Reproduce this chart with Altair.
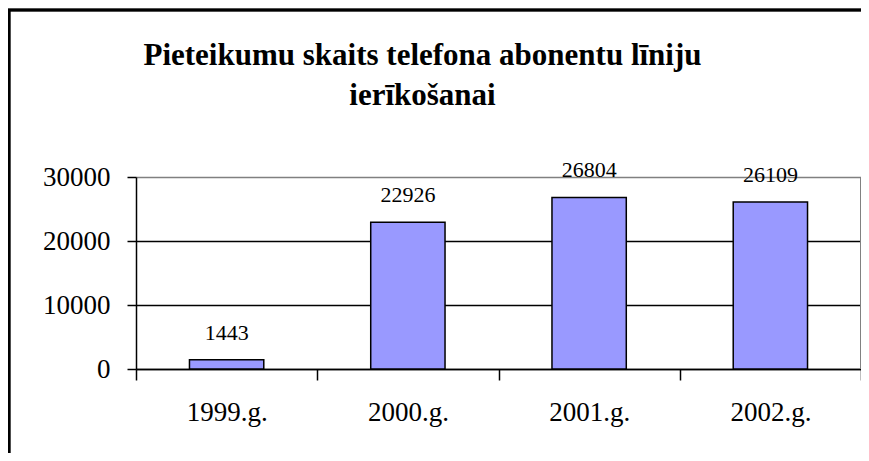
import altair as alt
import pandas as pd

years = ["1999.g.", "2000.g.", "2001.g.", "2002.g."]
counts = [1443, 22926, 26804, 26109]
y_ticks = [0, 10000, 20000, 30000]
title_lines = ["Pieteikumu skaits telefona abonentu līniju", "ierīkošanai"]

df = pd.DataFrame({"year": years, "count": counts})

W, H = 725, 192
SERIF = "'Liberation Serif', 'Times New Roman', serif"

x = alt.X(
    "year:N", sort=years, title=None,
    scale=alt.Scale(paddingInner=0, paddingOuter=0),
    axis=alt.Axis(
        labelAngle=0, labelFont=SERIF, labelFontSize=27, labelColor="black",
        tickBand="extent", tickSize=11, tickColor="black", tickWidth=1.5,
        domainColor="black", domainWidth=1.5, labelPadding=19, grid=False,
    ),
)
y = alt.Y(
    "count:Q", title=None,
    scale=alt.Scale(domain=[0, 30000], nice=False),
    axis=alt.Axis(
        values=y_ticks, format="d", labelFont=SERIF, labelFontSize=27,
        labelColor="black", tickSize=9, tickColor="black", tickWidth=1.5,
        labelPadding=17, domainColor="black", domainWidth=1.5,
        grid=True, gridWidth=1.5,
        gridColor={"condition": {"test": "datum.value === 30000", "value": "#808080"}, "value": "black"},
    ),
)

bars = alt.Chart(df).mark_bar(
    width=alt.RelativeBandSize(0.41), color="#9999FF", stroke="black", strokeWidth=1.5
).encode(x=x, y=y)

labels = alt.Chart(df).mark_text(
    dy=-20, baseline="alphabetic", font=SERIF, fontSize=22, color="black"
).encode(x=x, y=y, text=alt.Text("count:Q", format="d"))

right_edge = alt.Chart(df).mark_rule(color="#808080", strokeWidth=1.5).encode(
    x=alt.value(W), y=alt.value(0), y2=alt.value(H)
)
border_left = alt.Chart(df).mark_rule(color="black", strokeWidth=2.5).encode(
    x=alt.value(-127), y=alt.value(-167), y2=alt.value(H + 90)
)
border_top = alt.Chart(df).mark_rule(color="black", strokeWidth=2.5).encode(
    x=alt.value(-128), x2=alt.value(W + 10), y=alt.value(-167)
)

chart = alt.layer(bars, labels, right_edge, border_left, border_top).properties(
    width=W, height=H,
    title=alt.TitleParams(
        text=title_lines, font=SERIF, fontSize=31, fontWeight="bold", color="black",
        anchor="middle", frame="group", dx=-76, lineHeight=40, offset=-103,
    ),
    autosize=alt.AutoSizeParams(type="none"),
    padding={"left": 128, "top": 169, "right": 0, "bottom": 84},
).configure_view(stroke=None).configure(background="white")

chart.save("out.html", embed_options={"renderer": "svg", "actions": False})
